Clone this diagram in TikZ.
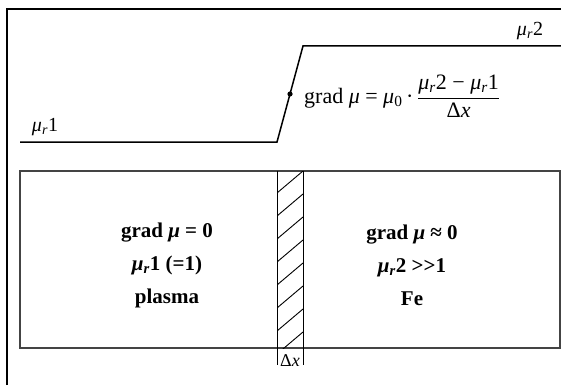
\documentclass[tikz,border=0pt]{standalone}
\usepackage{fontspec}
\setmainfont{Liberation Serif}
\usepackage{amsmath}
\usepackage{tikz}
\usetikzlibrary{positioning,calc}
\definecolor{boxgray}{HTML}{444444}
\newcommand{\muit}{\textit{μ}}
\newcommand{\mur}[1]{\textit{μ}\textsubscript{\textit{r}}#1}

\begin{document}
\begin{tikzpicture}[
  x=1pt, y=-1pt,
  frame/.style={line width=2.6pt, draw=black},
  curve/.style={line width=1.5pt, draw=black},
  medium/.style={line width=1.4pt, draw=boxgray},
  hatch/.style={line width=0.9pt, draw=black},
  level/.style={font=\fontsize{20}{22}\selectfont, inner sep=0pt},
  formula/.style={font=\fontsize{22}{24}\selectfont, inner sep=0pt, anchor=west},
  inside/.style={font=\fontsize{21}{33}\selectfont\bfseries, align=center, inner sep=0pt},
  widthlabel/.style={font=\fontsize{18}{20}\selectfont, inner sep=0pt}
]
\useasboundingbox (0,0) rectangle (561,385);
% outer frame
\draw[frame] (7,385) -- (7,9) -- (561,9);

% mu profile
\coordinate (low0) at (20,142);
\coordinate (low1) at (277,142);
\coordinate (high0) at (303,46);
\coordinate (high1) at (561,46);
\coordinate (mid) at ($(low1)!0.5!(high0)$);
\draw[curve] (low0) -- (low1) -- (high0) -- (high1);
\fill (mid) circle (2.6);
\node[level] (mu1) at (45,127) {\mur{1}};
\node[level] (mu2) at (530,31) {\mur{2}};
\node[formula] (gradform) at (304,96)
  {grad \muit{} = \muit\textsubscript{0}\,·\,$\dfrac{\mbox{\mur{2} − \mur{1}}}{\mbox{Δ\textit{x}}}$};

% plasma / iron
\coordinate (boxnw) at (20,171);
\coordinate (boxse) at (560,348);
\draw[medium] (boxnw) rectangle (boxse);
\coordinate (stripnw) at (277,171);
\coordinate (stripse) at (303,348);
\begin{scope}
  \clip (stripnw) rectangle (stripse);
  \foreach \k in {0,...,8}
    \draw[hatch] (277,193+23*\k) -- (303,171+23*\k);
\end{scope}
\draw[hatch] (stripnw) -- (stripnw |- stripse);
\draw[hatch] (stripse |- stripnw) -- (stripse);
\node[inside] (plasma) at (167,265)
  {grad \textit{μ} = 0\\\textit{μ}\textsubscript{\textit{r}}1 (=1)\\plasma};
\node[inside] (iron) at (412,265)
  {grad \textit{μ} ≈ 0\\\textit{μ}\textsubscript{\textit{r}}2 >\kern0pt>\kern0pt1\\Fe};

% strip width
\coordinate (tickl) at (277,365);
\coordinate (tickr) at (303,365);
\draw[line width=0.6pt] (stripnw |- stripse) -- (tickl);
\draw[line width=0.6pt] (stripse) -- (tickr);
\node[widthlabel] (dx) at (290,361) {Δ\textit{x}};
\end{tikzpicture}
\end{document}
